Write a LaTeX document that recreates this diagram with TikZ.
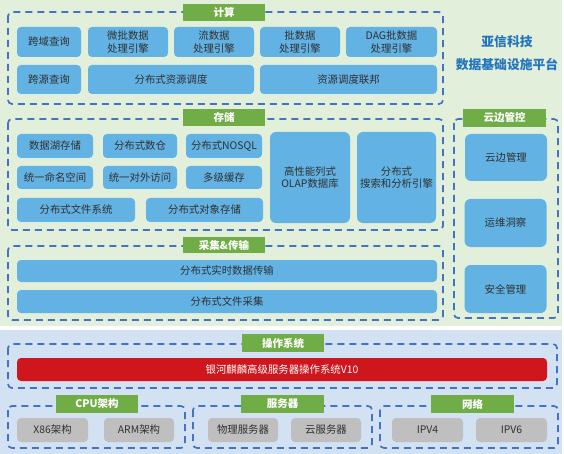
\documentclass[tikz,border=0pt]{standalone}
\usepackage{fontspec}
\setmainfont{Noto Sans CJK SC}
\definecolor{bgG}{HTML}{E2EFDA}
\definecolor{bgB}{HTML}{D2E2F2}
\definecolor{nodeB}{HTML}{62B2E4}
\definecolor{ttlG}{HTML}{70AD47}
\definecolor{dash}{HTML}{4472C4}
\definecolor{osR}{HTML}{D0161D}
\definecolor{grayN}{HTML}{BFBFBF}
\definecolor{txt}{HTML}{303030}
\definecolor{brand}{HTML}{2475BE}
\begin{document}
\begin{tikzpicture}[x=1pt,y=-1pt,
  grp/.style={draw=dash,line width=1.7pt,dash pattern=on 7pt off 5pt,rounded corners=4pt},
  ttl/.style={fill=ttlG,text=white,font=\bfseries\fontsize{10.5}{11}\selectfont,inner sep=0pt,minimum width=82pt,minimum height=17pt},
  bn/.style={fill=nodeB,rounded corners=4pt,text=txt,font=\fontsize{10.4}{12.5}\selectfont,inner sep=0pt,align=center},
  gn/.style={fill=grayN,rounded corners=4pt,text=txt,font=\fontsize{10.4}{12.5}\selectfont,inner sep=0pt,minimum width=71pt,minimum height=24pt},
]
\useasboundingbox (0,0) rectangle (564,454);
\fill[bgG] (0,0) rectangle (562,326);
\fill[bgB] (0,330) rectangle (562,454);

% group frames
\draw[grp] (8,12) rectangle (443,104);
\draw[grp] (8,119) rectangle (443,230);
\draw[grp] (454,119) rectangle (558,318);
\draw[grp] (8,246) rectangle (443,320);
\draw[grp] (8,344) rectangle (557,388);
\draw[grp] (8,406) rectangle (185,448);
\draw[grp] (193,406) rectangle (372,448);
\draw[grp] (380,406) rectangle (558,448);

% titles
\node[ttl] (tCalc) at (224,12.5) {计算};
\node[ttl] (tStore) at (224,117.5) {存储};
\node[ttl,minimum width=83pt,minimum height=18pt] (tCloud) at (504.5,118) {云边管控};
\node[ttl,minimum height=16pt] (tColl) at (224,245) {采集\&传输};
\node[ttl,minimum height=18pt] (tOS) at (283,343) {操作系统};
\node[ttl,minimum height=18pt] (tCPU) at (97,404) {CPU架构};
\node[ttl,minimum width=83pt,minimum height=18pt] (tSrv) at (282.5,404) {服务器};
\node[ttl,minimum width=83pt,minimum height=18pt] (tNet) at (472.5,404) {网络};

% platform title
\node[text=brand,font=\bfseries\fontsize{12.8}{14}\selectfont] (brand1) at (507,42) {亚信科技};
\node[text=brand,font=\bfseries\fontsize{12.8}{14}\selectfont] (brand2) at (507,65) {数据基础设施平台};

% compute
\node[bn,minimum width=64pt,minimum height=30pt] (c1) at (49,42) {跨域查询};
\node[bn,minimum width=80pt,minimum height=30pt] (c2) at (128,42) {微批数据\\处理引擎};
\node[bn,minimum width=80pt,minimum height=30pt] (c3) at (214,42) {流数据\\处理引擎};
\node[bn,minimum width=80pt,minimum height=30pt] (c4) at (300,42) {批数据\\处理引擎};
\node[bn,minimum width=91pt,minimum height=30pt] (c5) at (391.5,42) {DAG批数据\\处理引擎};
\node[bn,minimum width=64pt,minimum height=29pt] (c6) at (49,79.5) {跨源查询};
\node[bn,minimum width=166pt,minimum height=29pt] (c7) at (171,79.5) {分布式资源调度};
\node[bn,minimum width=177pt,minimum height=29pt] (c8) at (348.5,79.5) {资源调度联邦};

% storage
\node[bn,minimum width=76pt,minimum height=24pt] (s1) at (55,146) {数据湖存储};
\node[bn,minimum width=74pt,minimum height=24pt] (s2) at (140,146) {分布式数仓};
\node[bn,minimum width=76pt,minimum height=24pt] (s3) at (224,146) {分布式NOSQL};
\node[bn,minimum width=76pt,minimum height=23pt] (s4) at (55,177.5) {统一命名空间};
\node[bn,minimum width=74pt,minimum height=23pt] (s5) at (140,177.5) {统一对外访问};
\node[bn,minimum width=76pt,minimum height=23pt] (s6) at (224,177.5) {多级缓存};
\node[bn,minimum width=118pt,minimum height=24pt] (s7) at (76,210) {分布式文件系统};
\node[bn,minimum width=117pt,minimum height=24pt] (s8) at (204.5,210) {分布式对象存储};
\node[bn,rounded corners=6pt,minimum width=80pt,minimum height=91pt] (s9) at (310,177.5) {高性能列式\\OLAP数据库};
\node[bn,rounded corners=6pt,minimum width=79pt,minimum height=91pt] (s10) at (396.5,177.5) {分布式\\搜索和分析引擎};

% cloud-edge
\node[bn,rounded corners=6pt,minimum width=82pt,minimum height=47pt] (e1) at (506,157.5) {云边管理};
\node[bn,rounded corners=6pt,minimum width=82pt,minimum height=48pt] (e2) at (505.5,223) {运维洞察};
\node[bn,rounded corners=6pt,minimum width=82pt,minimum height=48pt] (e3) at (505.5,289) {安全管理};

% collection
\node[bn,minimum width=420pt,minimum height=22pt] (t1) at (227,271) {分布式实时数据传输};
\node[bn,minimum width=420pt,minimum height=23pt] (t2) at (227,301.5) {分布式文件采集};

% OS
\node[fill=osR,rounded corners=4pt,text=white,font=\fontsize{10.4}{12.5}\selectfont,inner sep=0pt,minimum width=530pt,minimum height=23pt] (os) at (282,369.5) {银河麒麟高级服务器操作系统V10};

% bottom
\node[gn] (h1) at (52.5,430) {X86架构};
\node[gn,minimum width=70pt] (h2) at (139,430) {ARM架构};
\node[gn,minimum width=70pt] (h3) at (243,430) {物理服务器};
\node[gn,minimum width=70pt] (h4) at (326,430) {云服务器};
\node[gn] (h5) at (427.5,430) {IPV4};
\node[gn] (h6) at (511.5,430) {IPV6};
\end{tikzpicture}
\end{document}
